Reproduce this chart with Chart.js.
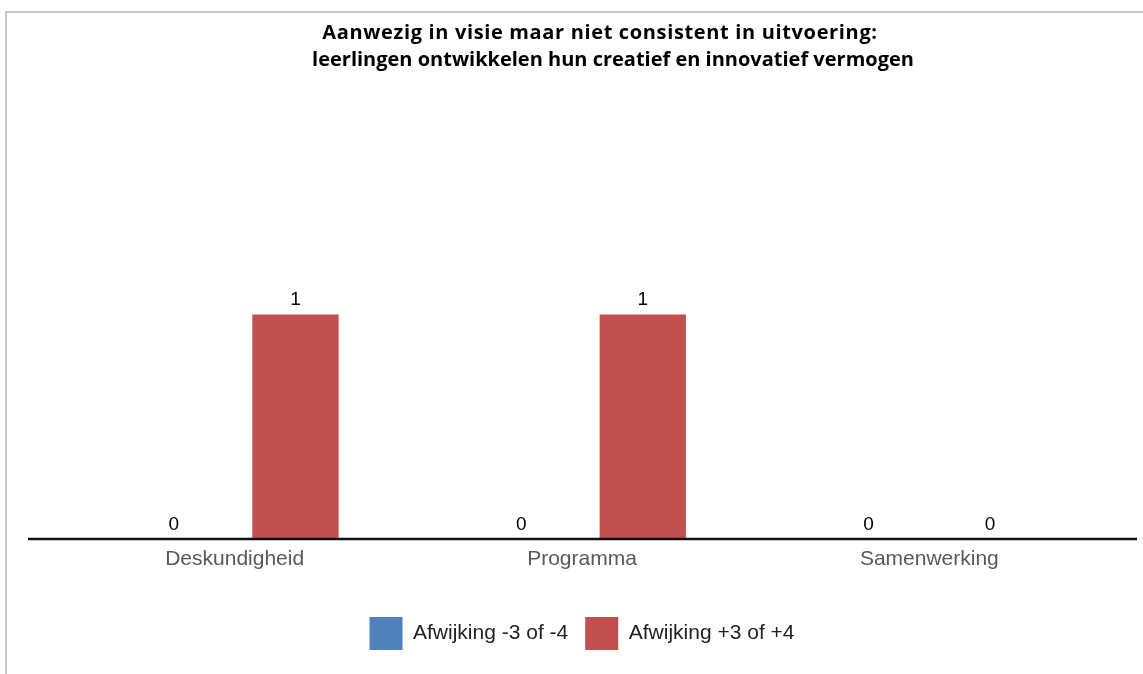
<!DOCTYPE html>
<html>
<head>
<meta charset="utf-8">
<script src="https://cdn.jsdelivr.net/npm/chart.js@4.4.0/dist/chart.umd.min.js"></script>
<style>
  html, body { margin: 0; padding: 0; background: #fff; }
  #wrap { position: relative; width: 1143px; height: 674px; overflow: hidden; }
  #frame { position: absolute; left: 5px; top: 11px; right: -5px; bottom: -5px;
           border-top: 2px solid #c8c8c8; border-left: 2px solid #c8c8c8; }
  canvas { position: absolute; left: 0; top: 0; }
</style>
</head>
<body>
<div id="wrap">
  <div id="frame"></div>
  <canvas id="chart" width="1143" height="674"></canvas>
</div>
<script>
// gegevens van de grafiek
const titleLines = [
  'Aanwezig in visie maar niet consistent in uitvoering:',
  'leerlingen ontwikkelen hun creatief en innovatief vermogen'
];
const categories = ['Deskundigheid', 'Programma', 'Samenwerking'];
const seriesNames = ['Afwijking -3 of -4', 'Afwijking +3 of +4'];
const minValues = [0, 0, 0];
const plusValues = [1, 1, 0];
const colors = ['#4f81bd', '#c0504d'];

const FONT = '"Liberation Sans", Arial, sans-serif';

// titel (twee regels, net als het origineel iets verschoven)
const titlePlugin = {
  id: 'titleLines',
  afterDraw(chart) {
    const ctx = chart.ctx;
    ctx.save();
    ctx.fillStyle = '#000';
    ctx.font = 'bold 20px "Open Sans", Lato, sans-serif';
    ctx.textAlign = 'center';
    ctx.textBaseline = 'middle';
    ctx.letterSpacing = '0.65px';
    ctx.fillText(titleLines[0], 600, 33);
    ctx.letterSpacing = '0px';
    ctx.fillText(titleLines[1], 613, 60);
    ctx.restore();
  }
};

// x-as lijn, iets breder dan het plotgebied
const baseLine = {
  id: 'baseLine',
  afterDatasetsDraw(chart) {
    const { ctx, chartArea } = chart;
    const y = chart.scales.y.getPixelForValue(0);
    ctx.save();
    ctx.strokeStyle = '#111';
    ctx.lineWidth = 2.5;
    ctx.beginPath();
    ctx.moveTo(chartArea.left - 33, y);
    ctx.lineTo(chartArea.right + 34, y);
    ctx.stroke();
    ctx.restore();
  }
};

// waarden boven de staven
const valueLabels = {
  id: 'valueLabels',
  afterDatasetsDraw(chart) {
    const ctx = chart.ctx;
    ctx.save();
    ctx.fillStyle = '#000';
    ctx.font = '19px ' + FONT;
    ctx.textAlign = 'center';
    ctx.textBaseline = 'bottom';
    chart.data.datasets.forEach((ds, i) => {
      chart.getDatasetMeta(i).data.forEach((bar, j) => {
        ctx.fillText(String(ds.data[j]), bar.x, bar.y - 5);
      });
    });
    ctx.restore();
  }
};

new Chart(document.getElementById('chart'), {
  type: 'bar',
  data: {
    labels: categories,
    datasets: [
      { label: seriesNames[0], data: minValues, backgroundColor: colors[0] },
      { label: seriesNames[1], data: plusValues, backgroundColor: colors[1] }
    ]
  },
  options: {
    responsive: false,
    animation: false,
    categoryPercentage: 0.70,
    barPercentage: 0.71,
    layout: { padding: { left: 61, right: 40, top: 90, bottom: 14 } },
    plugins: {
      title: { display: false },
      tooltip: { enabled: false },
      legend: {
        position: 'bottom',
        labels: {
          boxWidth: 33,
          boxHeight: 33,
          padding: 17,
          color: '#222',
          font: { family: FONT, size: 21 }
        }
      }
    },
    scales: {
      x: {
        grid: { display: false, drawTicks: false },
        border: { display: false },
        ticks: { color: '#595959', padding: 8, font: { family: FONT, size: 21 } },
        afterFit(scale) { scale.height = 61; }
      },
      y: {
        display: false,
        min: 0,
        max: 2
      }
    }
  },
  plugins: [titlePlugin, baseLine, valueLabels]
});
</script>
</body>
</html>
